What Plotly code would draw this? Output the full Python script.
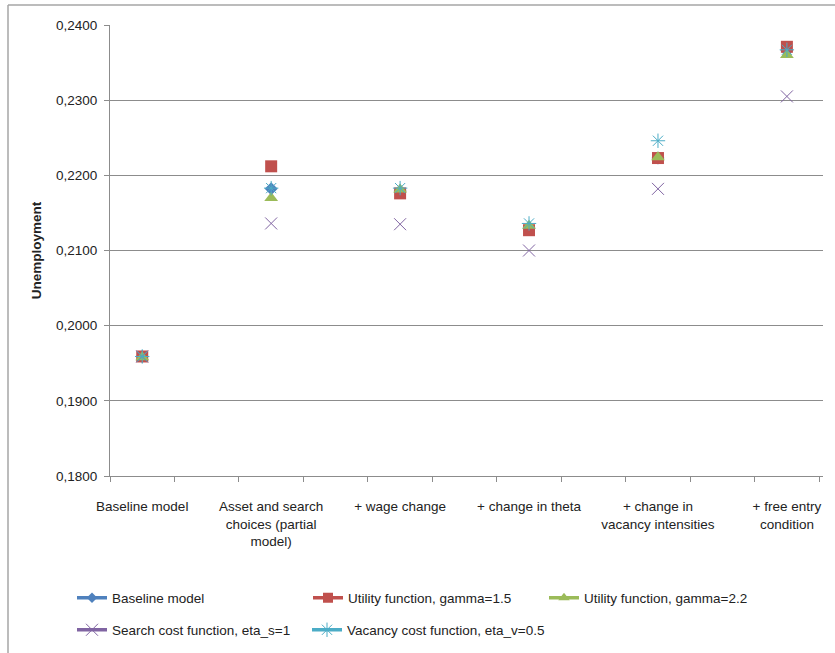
import plotly.graph_objects as go

# Scenario categories (x axis)
categories = [
    "Baseline model",
    "Asset and search<br>choices (partial<br>model)",
    "+ wage change",
    "+ change in theta",
    "+ change in<br>vacancy intensities",
    "+ free entry<br>condition",
]

# Unemployment rate per scenario for each model specification
baseline = [0.1959, 0.2182, 0.2179, 0.2130, 0.2223, 0.2366]
utility_g15 = [0.1959, 0.2212, 0.2176, 0.2127, 0.2223, 0.2371]
utility_g22 = [0.1958, 0.2170, 0.2181, 0.2133, 0.2224, 0.2360]
search_cost = [0.1959, 0.2136, 0.2135, 0.2100, 0.2182, 0.2305]
vacancy_cost = [0.1959, 0.2183, 0.2183, 0.2136, 0.2246, 0.2367]

series = [
    ("Baseline model", baseline, "#4F81BD", "diamond", 10, "legend"),
    ("Utility function, gamma=1.5", utility_g15, "#C0504D", "square", 12, "legend"),
    ("Utility function, gamma=2.2", utility_g22, "#9BBB59", "triangle-up", 12, "legend"),
    ("Search cost function, eta_s=1", search_cost, "#8064A2", "x-thin", 12, "legend2"),
    ("Vacancy cost function, eta_v=0.5", vacancy_cost, "#4BACC6", "asterisk-open", 12, "legend3"),
]

xpos = list(range(len(categories)))
FONT = "Liberation Sans, Arial, sans-serif"
FS = 13.5
GRID = "#8C8C8C"

fig = go.Figure()
for name, vals, color, sym, size, leg in series:
    thin = sym in ("x-thin", "asterisk-open")
    marker = dict(symbol=sym, size=size, color=color,
                  line=dict(width=1, color=color) if thin else dict(width=0))
    fig.add_trace(go.Scatter(
        x=xpos, y=vals, mode="markers", name=name, marker=marker,
        showlegend=False, hoverinfo="x+y+name",
    ))

# Legend entries drawn as line + marker samples
for name, vals, color, sym, size, leg in series:
    thin = sym in ("x-thin", "asterisk-open")
    fig.add_trace(go.Scatter(
        x=[None], y=[None], mode="lines+markers", name=name, legend=leg,
        line=dict(color=color, width=3.5),
        marker=dict(symbol=sym, size=size - 2 if not thin else size, color=color,
                    line=dict(width=1, color=color) if thin else dict(width=0)),
    ))

minor_ticks = [-0.25 + 0.5 * k for k in range(12)]


def legend_box(x_px, y_px, entry_w=191):
    return dict(orientation="h", xref="container", yref="container",
                x=x_px / 835, y=1 - y_px / 653, yanchor="middle",
                xanchor="left", entrywidth=entry_w, font=dict(size=FS),
                bgcolor="rgba(0,0,0,0)")


fig.update_layout(
    width=835, height=653,
    margin=dict(l=110, r=12, t=25, b=177, autoexpand=False),
    paper_bgcolor="white", plot_bgcolor="white",
    separators=",.",
    font=dict(family=FONT, size=FS, color="#222222"),
    xaxis=dict(
        range=[-0.25, 5.28], automargin=False,
        tickmode="array", tickvals=xpos, ticktext=categories,
        ticks="", ticklabelstandoff=18,
        showgrid=False, zeroline=False,
        showline=True, linecolor=GRID, linewidth=1,
        minor=dict(ticks="outside", ticklen=5, tickcolor=GRID,
                   tickmode="array", tickvals=minor_ticks, showgrid=False),
        fixedrange=True,
    ),
    yaxis=dict(
        range=[0.18, 0.24], dtick=0.01, tick0=0.18, tickformat=".4f",
        automargin=False,
        ticks="outside", ticklen=5, tickcolor=GRID, ticklabelstandoff=4,
        showgrid=True, gridcolor=GRID, gridwidth=1,
        zeroline=False, showline=True, linecolor=GRID, linewidth=1,
        title=dict(text="<b>Unemployment</b>", standoff=11,
                   font=dict(family=FONT, size=FS)),
    ),
    legend=legend_box(72, 598),
    legend2=legend_box(72, 630),
    legend3=legend_box(307, 630, entry_w=260),
    shapes=[
        # chart frame edges (top and left)
        dict(type="line", xref="paper", yref="paper",
             x0=(8 - 110) / 713, x1=(835 - 110) / 713,
             y0=(476 - 5) / 451, y1=(476 - 5) / 451,
             line=dict(color="#A6A6A6", width=1.5)),
        dict(type="line", xref="paper", yref="paper",
             x0=(8 - 110) / 713, x1=(8 - 110) / 713,
             y0=(476 - 5) / 451, y1=(476 - 653) / 451,
             line=dict(color="#A6A6A6", width=1.5)),
    ],
)

fig.write_html("out.html")
